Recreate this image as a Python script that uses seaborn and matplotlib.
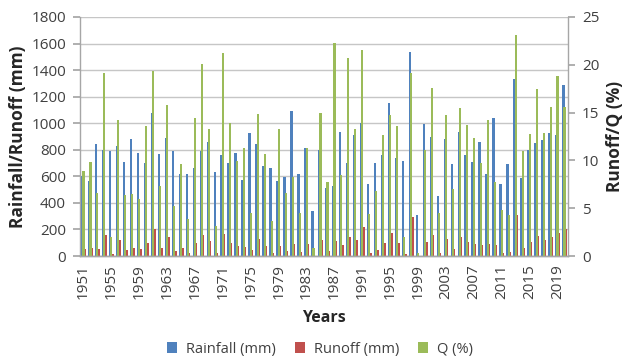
import matplotlib
matplotlib.use("Agg")
import matplotlib.pyplot as plt
import seaborn as sns
import pandas as pd
from matplotlib.patches import Patch

years = list(range(1951, 2021))

rainfall = [600, 565, 840, 800, 790, 828, 708, 880, 778, 700,
            1078, 765, 885, 790, 620, 615, 660, 790, 858, 633,
            758, 700, 775, 575, 928, 843, 680, 660, 565, 597,
            1090, 620, 810, 337, 795, 510, 530, 937, 700, 910,
            1000, 545, 702, 760, 1152, 735, 716, 1535, 308, 995,
            900, 452, 880, 695, 932, 760, 708, 858, 620, 1040,
            540, 695, 1333, 585, 802, 850, 877, 930, 908, 1285]

runoff = [54, 58, 55, 155, 16, 118, 45, 57, 50, 95,
          207, 58, 140, 40, 60, 24, 95, 158, 115, 20,
          163, 97, 77, 65, 42, 125, 73, 25, 75, 40,
          90, 28, 90, 3, 119, 40, 115, 80, 145, 122,
          215, 24, 48, 97, 170, 100, 14, 295, 3, 108,
          158, 20, 130, 49, 145, 103, 90, 83, 88, 80,
          26, 28, 308, 64, 105, 149, 118, 145, 171, 200]

q_pct = [8.9, 9.8, 6.6, 19.1, 2.0, 14.2, 6.4, 6.5, 6.0, 13.6,
         19.4, 7.3, 15.8, 5.2, 9.6, 3.9, 14.4, 20.1, 13.3, 3.1,
         21.2, 13.9, 9.9, 11.3, 4.5, 14.9, 10.7, 3.7, 13.3, 6.6,
         8.3, 4.5, 11.3, 0.8, 15.0, 7.7, 22.3, 8.5, 20.7, 13.3,
         21.5, 4.4, 6.8, 12.7, 14.7, 13.6, 2.0, 19.1, 0.3, 11.1,
         17.6, 4.5, 14.8, 7.0, 15.5, 13.7, 12.3, 9.7, 14.2, 7.7,
         4.8, 4.3, 23.1, 11.0, 12.8, 17.5, 12.9, 15.6, 18.8, 15.6]

series_names = ["Rainfall (mm)", "Runoff (mm)", "Q (%)"]
tick_years = [str(y) for y in years[::4]]

BLUE, RED, GREEN = "#4F81BD", "#C0504D", "#9BBB59"
GRID = "#c6c6c6"
SPINE = "#a6a6a6"
TXT = "#404040"

sns.set_theme(style="white")
plt.rcParams["font.family"] = ["Open Sans", "DejaVu Sans"]

fig = plt.figure(figsize=(6.23, 3.6), dpi=100)
ax1 = fig.add_axes([80 / 623, 1 - 256 / 360, 488 / 623, 239 / 360])

long_df = pd.DataFrame({
    "Year": years * 2,
    "Series": [series_names[0]] * len(years) + [series_names[1]] * len(years),
    "Value": rainfall + runoff,
})
sns.barplot(data=long_df, x="Year", y="Value", hue="Series",
            palette=[BLUE, RED], width=0.7, gap=0, saturation=1,
            errorbar=None, linewidth=0, legend=False, ax=ax1)

ax2 = ax1.twinx()
q_df = pd.DataFrame({"Year": years, "Q": q_pct})
sns.barplot(data=q_df, x="Year", y="Q", color=GREEN, width=0.3,
            saturation=1, errorbar=None, linewidth=0, ax=ax2)

ax1.set_xlim(-0.5, len(years) - 0.5)
ax1.set_ylim(0, 1800)
ax1.set_yticks(range(0, 1801, 200))
ax2.set_ylim(0, 25)
ax2.set_yticks(range(0, 26, 5))

ax1.yaxis.grid(True, color=GRID, linewidth=1.0)
ax1.xaxis.grid(False)
ax1.set_axisbelow(True)

ax1.set_xticks(range(0, len(years), 4))
ax1.set_xticklabels(tick_years, rotation=90)

for ax in (ax1, ax2):
    for s in ax.spines.values():
        s.set_color(SPINE)
        s.set_linewidth(1.0)
    ax.spines["top"].set_visible(False)
ax1.spines["right"].set_visible(False)
ax2.spines["left"].set_visible(False)

ax1.tick_params(axis="y", length=5, color=SPINE, labelsize=11, labelcolor=TXT, pad=5)
ax1.tick_params(axis="x", length=0, labelsize=11, labelcolor=TXT, pad=6)
ax2.tick_params(axis="y", length=5, color=SPINE, labelsize=11, labelcolor=TXT, pad=5)

ax1.set_ylabel("Rainfall/Runoff (mm)", fontsize=12.5, fontweight="bold", color="#262626", labelpad=3)
ax2.set_ylabel("Runoff/Q (%)", fontsize=12.5, fontweight="bold", color="#262626", labelpad=5)
ax1.set_xlabel("Years", fontsize=11.5, fontweight="bold", color="#262626", labelpad=8)

handles = [Patch(facecolor=c, edgecolor="none", label=n)
           for c, n in zip([BLUE, RED, GREEN], series_names)]
fig.legend(handles=handles, loc="center", bbox_to_anchor=(320 / 623, 1 - 349 / 360),
           ncol=3, frameon=False, fontsize=10.5, handlelength=0.7, handleheight=0.7,
           handletextpad=0.6, columnspacing=1.3, labelcolor=TXT)

fig.savefig("out.png", dpi=100)
